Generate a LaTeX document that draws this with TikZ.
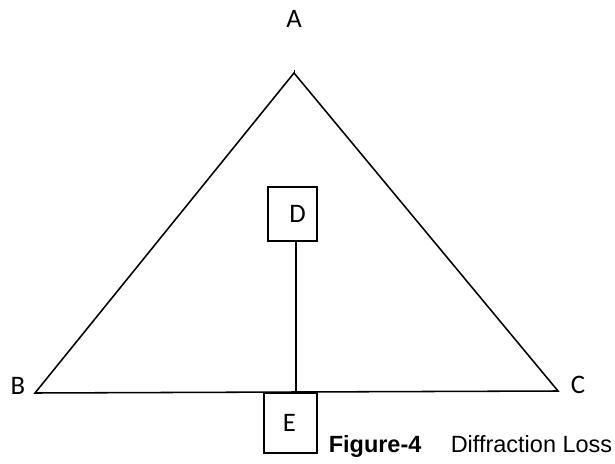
\documentclass[tikz,border=0pt]{standalone}
\usepackage{fontspec}
\setmainfont{Carlito}
\newfontfamily\capfont{Liberation Sans}
\usetikzlibrary{calc,positioning}

\tikzset{
  ptlabel/.style={inner sep=0pt,font=\fontsize{19}{22}\selectfont},
  blockbox/.style={draw,line width=1.1pt,inner sep=0pt,font=\fontsize{19}{22}\selectfont},
  captext/.style={anchor=base west,inner sep=0pt,font=\capfont\fontsize{16.7}{20}\selectfont},
}

\begin{document}
\begin{tikzpicture}[x=0.025cm,y=-0.025cm,line width=1.1pt]
        \useasboundingbox (0,0) rectangle (615,464);
        % corners of the triangle
        \coordinate (A) at (294,73);
        \coordinate (B) at (35,393);
        \coordinate (C) at (558,391);
        \draw[line join=miter] (A) -- (B) -- (C) -- cycle;
        \draw[line width=0.7pt] (A) -- ++(0,-3);
        \node[ptlabel] (labA) at (294,19) {A};
        \node[ptlabel] (labB) at (18,386) {B};
        \node[ptlabel] (labC) at (578,385) {C};
        % the two boxes
        \node[blockbox,minimum width=1.225cm,minimum height=1.35cm] (D) at (292.5,214) {\hspace*{0.25cm}D};
        \node[blockbox,minimum width=1.325cm,minimum height=1.5cm] (E) at (290.5,423) {\hspace*{-0.05cm}E};
        \coordinate (Dfoot) at (296,241);
        \coordinate (Dbase) at (296,392);
        \draw (Dfoot) -- (Dbase);
        % caption
        \node[captext] (fig) at (328,452) {\textbf{Figure-4}};
        \node[captext] (cap) at (450,452) {Diffraction Loss};
      \end{tikzpicture}
\end{document}
